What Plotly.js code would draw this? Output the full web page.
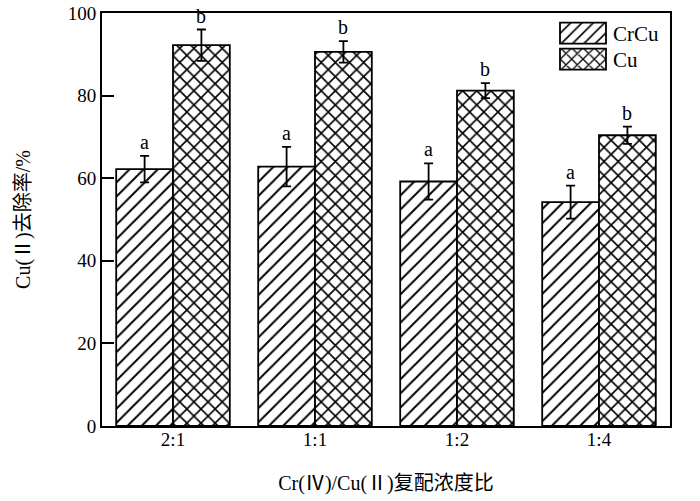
<!DOCTYPE html>
<html>
<head>
<meta charset="utf-8">
<script src="https://cdn.plot.ly/plotly-3.0.1.min.js"></script>
<style>html,body{margin:0;padding:0;background:#fff;}#chart{width:700px;height:501px;}</style>
</head>
<body>
<div id="chart"></div>
<script>
const categories = ['2:1', '1:1', '1:2', '1:4'];
const crcuValues = [62.2, 62.8, 59.2, 54.2];
const crcuErrors = [3.2, 4.8, 4.4, 4.0];
const cuValues = [92.2, 90.6, 81.2, 70.4];
const cuErrors = [3.8, 2.6, 1.8, 2.1];
const crcuLabels = ['a', 'a', 'a', 'a'];
const cuLabels = ['b', 'b', 'b', 'b'];
const yTicks = [0, 20, 40, 60, 80, 100];

const serif = '"Liberation Serif", "Times New Roman", "Noto Sans CJK SC", serif';
const titleFont = '"Liberation Serif", "Noto Sans CJK SC", serif';

const errStyle = {type: 'data', visible: true, color: '#000', thickness: 1.8, width: 4.5};

const traces = [
  {
    type: 'bar', name: 'CrCu', x: categories, y: crcuValues,
    error_y: Object.assign({array: crcuErrors}, errStyle),
    marker: {color: '#fff', line: {color: '#000', width: 1.8},
      pattern: {shape: '/', fgcolor: '#000', bgcolor: '#fff', size: 10, solidity: 0.2}}
  },
  {
    type: 'bar', name: 'Cu', x: categories, y: cuValues,
    error_y: Object.assign({array: cuErrors}, errStyle),
    marker: {color: '#fff', line: {color: '#000', width: 1.8},
      pattern: {shape: 'x', fgcolor: '#000', bgcolor: '#fff', size: 10, solidity: 0.3}}
  }
];

const annotations = [];
categories.forEach((c, i) => {
  annotations.push({x: i - 0.2, y: crcuValues[i] + crcuErrors[i], xref: 'x', yref: 'y',
    text: crcuLabels[i], showarrow: false, yanchor: 'bottom', yshift: 1,
    font: {family: serif, size: 20, color: '#000'}});
  annotations.push({x: i + 0.2, y: cuValues[i] + cuErrors[i], xref: 'x', yref: 'y',
    text: cuLabels[i], showarrow: false, yanchor: 'bottom', yshift: 1,
    font: {family: serif, size: 20, color: '#000'}});
});

const layout = {
  width: 700, height: 501,
  margin: {l: 102, r: 30, t: 13, b: 75, autoexpand: false},
  paper_bgcolor: '#fff', plot_bgcolor: '#fff',
  barmode: 'group', bargap: 0.2, bargroupgap: 0,
  showlegend: true,
  legend: {x: 0.794, y: 1.0, xanchor: 'left', yanchor: 'top',
    font: {family: serif, size: 21, color: '#000'}, itemwidth: 50,
    bgcolor: 'rgba(0,0,0,0)', borderwidth: 0, tracegroupgap: 0},
  xaxis: {
    type: 'category', range: [-0.5, 3.5],
    showline: true, linecolor: '#000', linewidth: 1.8, mirror: true,
    ticks: '', showgrid: false, zeroline: false, ticklabelstandoff: -5,
    tickfont: {family: serif, size: 19, color: '#000'},
    title: {text: 'Cr(Ⅳ)/Cu(Ⅱ)复配浓度比', font: {family: titleFont, size: 20, color: '#000'}, standoff: 27}
  },
  yaxis: {
    range: [0, 100], tickvals: yTicks, ticktext: yTicks.map(String),
    showline: true, linecolor: '#000', linewidth: 1.8, mirror: true,
    ticks: 'inside', ticklen: 12, tickwidth: 1.8, tickcolor: '#000',
    showgrid: false, zeroline: false,
    tickfont: {family: serif, size: 19, color: '#000'},
    title: {text: 'Cu(Ⅱ)去除率/%', font: {family: titleFont, size: 20, color: '#000'}, standoff: 32}
  },
  annotations: annotations
};

function fixLegend() {
  document.querySelectorAll('.legend .legendpoints path').forEach(p => {
    p.setAttribute('d', 'M23,10.5H-23V-10.5H23Z');
  });
  const items = document.querySelectorAll('.legend .traces');
  if (items.length > 1) {
    const m0 = /translate\(([-\d.]+),\s*([-\d.]+)\)/.exec(items[0].getAttribute('transform') || '');
    if (m0) {
      const x0 = parseFloat(m0[1]), y0 = parseFloat(m0[2]);
      items.forEach((it, i) => it.setAttribute('transform', 'translate(' + x0 + ',' + (y0 + i * 26) + ')'));
    }
  }
}

Plotly.newPlot('chart', traces, layout, {displayModeBar: false}).then(() => {
  fixLegend();
  setTimeout(fixLegend, 50);
  setTimeout(fixLegend, 300);
});
</script>
</body>
</html>
